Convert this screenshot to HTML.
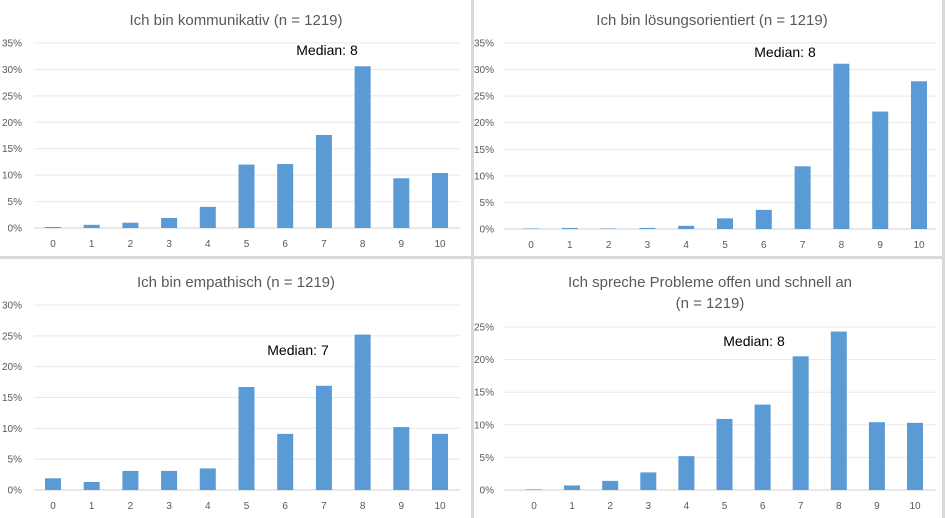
<!DOCTYPE html>
<html><head><meta charset="utf-8"><style>
html,body{margin:0;padding:0;background:#fff;}
svg{display:block;font-family:"Liberation Sans",sans-serif;}
</style></head><body>
<svg id="c" width="945" height="518" viewBox="0 0 945 518">
<rect x="471" y="0" width="3" height="518" fill="#d9d9d9"/>
<rect x="0" y="256" width="945" height="3" fill="#d9d9d9"/>
<rect x="942" y="0" width="3" height="518" fill="#d9d9d9"/>
</svg>
<script>
const categories = ["0","1","2","3","4","5","6","7","8","9","10"];
const kommunikativ = [0.2,0.6,1.0,1.9,4.0,12.0,12.1,17.6,30.6,9.4,10.4];
const loesungsorientiert = [0.1,0.2,0.1,0.2,0.6,2.0,3.6,11.8,31.1,22.1,27.8];
const empathisch = [1.9,1.3,3.1,3.1,3.5,16.7,9.1,16.9,25.2,10.2,9.1];
const probleme = [0.1,0.7,1.4,2.7,5.2,10.9,13.1,20.5,24.3,10.4,10.3];
const ticks35 = [0,5,10,15,20,25,30,35];
const ticks30 = [0,5,10,15,20,25,30];
const ticks25 = [0,5,10,15,20,25];
const titles = ["Ich bin kommunikativ (n = 1219)","Ich bin lösungsorientiert (n = 1219)","Ich bin empathisch (n = 1219)","Ich spreche Probleme offen und schnell an","(n = 1219)"];
const medians = ["Median: 8","Median: 8","Median: 7","Median: 8"];

const svg = document.getElementById('c');
const NS = 'http://www.w3.org/2000/svg';
function mk(tag, attrs){const e=document.createElementNS(NS,tag);for(const k in attrs)e.setAttribute(k,attrs[k]);svg.appendChild(e);return e;}

const panels = [
 {id:'kommunikativ',data:kommunikativ,ticks:ticks35,y0:228,yTop:43,x0:53,x10:440,gl:34,gr:460,lab:22,titleLines:[[titles[0],236,25]],med:[medians[0],327,55]},
 {id:'loesungsorientiert',data:loesungsorientiert,ticks:ticks35,y0:229,yTop:43,x0:531,x10:919,gl:504,gr:936,lab:494,titleLines:[[titles[1],712,25]],med:[medians[1],785,57]},
 {id:'empathisch',data:empathisch,ticks:ticks30,y0:490,yTop:305,x0:53,x10:440,gl:34,gr:460,lab:22,titleLines:[[titles[2],236,287]],med:[medians[2],298,355]},
 {id:'probleme',data:probleme,ticks:ticks25,y0:490,yTop:327,x0:534,x10:915,gl:504,gr:936,lab:494,titleLines:[[titles[3],710,287],[titles[4],710,308]],med:[medians[3],754,346]}
];

panels.forEach(p=>{
  const maxT = p.ticks[p.ticks.length-1];
  const y = v => p.y0 - (v/maxT)*(p.y0-p.yTop);
  const step = (p.x10-p.x0)/(categories.length-1);
  const x = i => p.x0 + i*step;
  p.ticks.forEach(t=>{
    const l = mk('line',{x1:p.gl,x2:p.gr,y1:y(t),y2:y(t),stroke:t===0?'#d0d0d0':'#e8e8e8','stroke-width':1});
    
    
    const tx = mk('text',{x:p.lab,y:y(t)+3.5,'text-anchor':'end','font-size':10,fill:'#595959'});
    tx.textContent = t+'%';
    
    
  });
  categories.forEach((c,i)=>{
    const v = p.data[i];
    const r = mk('rect',{x:x(i)-8,y:y(v),width:16,height:p.y0-y(v),fill:'#5b9bd5'});
    
    
    const tx = mk('text',{x:x(i),y:p.y0+19,'text-anchor':'middle','font-size':10,fill:'#595959'});
    tx.textContent = c;
    
    
  });
  p.titleLines.forEach((tl,k)=>{
    const tx = mk('text',{x:tl[1],y:tl[2],'text-anchor':'middle','font-size':15,fill:'#595959'});
    tx.textContent = tl[0];
    
    
  });
  const m = mk('text',{x:p.med[1],y:p.med[2],'text-anchor':'middle','font-size':14,fill:'#000'});
  m.textContent = p.med[0];
  
  
});
</script>
</body></html>
